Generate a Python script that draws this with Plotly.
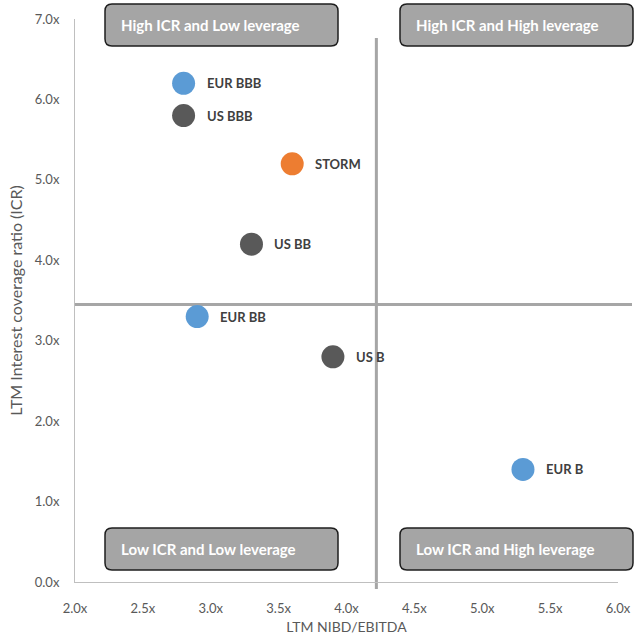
import plotly.graph_objects as go

# Peer data: leverage (NIBD/EBITDA) vs interest coverage (ICR)
names = ["EUR BBB", "US BBB", "STORM", "US BB", "EUR BB", "US B", "EUR B"]
leverage = [2.8, 2.8, 3.6, 3.3, 2.9, 3.9, 5.3]
icr = [6.2, 5.8, 5.2, 4.2, 3.3, 2.8, 1.4]
colors = ["#5B9BD5", "#595959", "#ED7D31", "#595959", "#5B9BD5", "#595959", "#5B9BD5"]

# Quadrant split lines
lev_split = 4.22
icr_split = 3.45

quadrant_labels = ["High ICR and Low leverage", "High ICR and High leverage",
                   "Low ICR and Low leverage", "Low ICR and High leverage"]

x_ticks = [2.0, 2.5, 3.0, 3.5, 4.0, 4.5, 5.0, 5.5, 6.0]
y_ticks = [0, 1, 2, 3, 4, 5, 6, 7]

FONT = "Lato"
W, H = 643, 635
ML, MR, MT, MB = 75, 25, 19, 53
PW, PH = W - ML - MR, H - MT - MB


def px(x):
    return (x - ML) / PW


def py(y):
    return (H - MB - y) / PH


def rounded_box(x0, y0, x1, y1, r):
    rx, ry = r / PW, r / PH
    a, b, c, d = px(x0), px(x1), py(y0), py(y1)  # c top, d bottom
    return (f"M {a+rx},{c} L {b-rx},{c} Q {b},{c} {b},{c-ry} "
            f"L {b},{d+ry} Q {b},{d} {b-rx},{d} "
            f"L {a+rx},{d} Q {a},{d} {a},{d+ry} "
            f"L {a},{c-ry} Q {a},{c} {a+rx},{c} Z")


fig = go.Figure()
fig.add_trace(go.Scatter(
    x=leverage, y=icr, mode="markers",
    marker=dict(size=23, color=colors, line=dict(width=0)),
    hoverinfo="skip", showlegend=False, cliponaxis=False,
))

shapes = [
    dict(type="line", xref="x", yref="paper", x0=lev_split, x1=lev_split,
         y0=py(589), y1=py(38), line=dict(color="#A6A6A6", width=3), layer="below"),
    dict(type="line", xref="paper", yref="y", x0=0, x1=px(632),
         y0=icr_split, y1=icr_split, line=dict(color="#A6A6A6", width=3), layer="below"),
]

annotations = []
for n, x, y in zip(names, leverage, icr):
    annotations.append(dict(
        x=x, y=y, xref="x", yref="y", text=f"<b>{n}</b>", showarrow=False,
        xanchor="left", yanchor="middle", xshift=21,
        font=dict(family=FONT, size=13, color="#404040"),
    ))

boxes = [(105, 4, 338, 46), (400, 4, 633, 46), (105, 528, 338, 570), (400, 528, 633, 570)]
for (x0, y0, x1, y1), lab in zip(boxes, quadrant_labels):
    shapes.append(dict(type="path", xref="paper", yref="paper", path=rounded_box(x0, y0, x1, y1, 7),
                       fillcolor="#A5A5A5", line=dict(color="#1E1E1E", width=1.5), layer="above"))
    annotations.append(dict(
        x=px(x0 + 14), y=py((y0 + y1) / 2), xref="paper", yref="paper",
        text=f"<b>{lab}</b>", showarrow=False, xanchor="left", yanchor="middle",
        font=dict(family=FONT, size=15, color="white"),
    ))

fig.update_layout(
    width=W, height=H,
    margin=dict(l=ML, r=MR, t=MT, b=MB, pad=0, autoexpand=False),
    plot_bgcolor="white", paper_bgcolor="white",
    font=dict(family=FONT, size=13, color="#595959"),
    shapes=shapes, annotations=annotations,
    xaxis=dict(
        range=[2.0, 6.0], tickvals=x_ticks, ticktext=[f"{v:.1f}x" for v in x_ticks],
        showgrid=False, zeroline=False, showline=True, linecolor="#BFBFBF", linewidth=1,
        ticks="", ticklabelstandoff=14, automargin=False,
        title=dict(text="LTM NIBD/EBITDA", font=dict(size=14, color="#595959"), standoff=8),
    ),
    yaxis=dict(
        range=[0, 7], tickvals=y_ticks, ticktext=[f"{v:.1f}x" for v in y_ticks],
        showgrid=False, zeroline=False, showline=True, linecolor="#BFBFBF", linewidth=1,
        ticks="", ticklabelstandoff=12, automargin=False,
        title=dict(text="LTM Interest coverage ratio (ICR)", font=dict(size=16, color="#595959"), standoff=8),
    ),
)

fig.write_html("out.html")
